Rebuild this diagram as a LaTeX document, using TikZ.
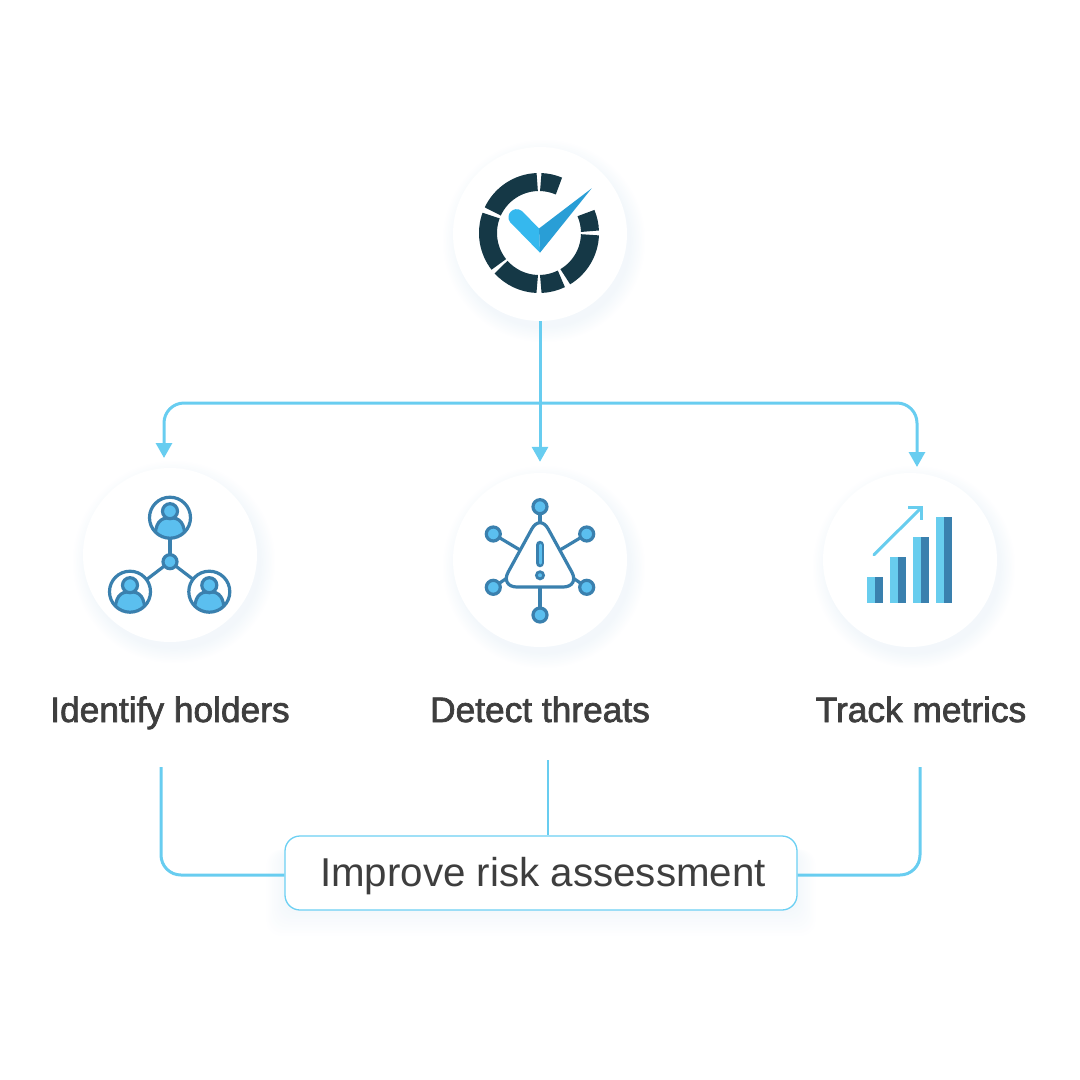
\documentclass[tikz,border=0pt]{standalone}
\usepackage{fontspec}
\setmainfont{Liberation Sans}
\newfontfamily\LabelFont[FakeBold=2]{Liberation Sans}
\usetikzlibrary{arrows.meta,backgrounds}
\definecolor{FlowClr}{RGB}{104,205,240}
\definecolor{BoxClr}{RGB}{108,208,243}
\definecolor{TextClr}{RGB}{62,62,62}
\definecolor{RingClr}{RGB}{21,56,70}
\definecolor{CheckClr}{RGB}{53,184,238}
\definecolor{CheckDrk}{RGB}{41,158,214}
\definecolor{IconDrk}{RGB}{58,128,174}
\definecolor{IconLgt}{RGB}{91,191,239}
\definecolor{BarLgt}{RGB}{104,205,238}
\definecolor{ShadowClr}{RGB}{150,190,220}
\tikzset{
  IconCircle/.style={circle,fill=white,minimum size=174pt,inner sep=0pt},
  FlowLine/.style={draw=FlowClr,line width=3pt},
  FlowArrow/.style={FlowLine,-{Triangle[length=15pt,width=16pt]}},
  StepLabel/.style={text=TextClr,anchor=base,font=\fontsize{35.3}{38}\selectfont\LabelFont},
  IconLine/.style={draw=IconDrk,line width=3.2pt},
  IconDot/.style={IconLine,fill=IconLgt},
  SoftGlow/.style={fill=ShadowClr,opacity=.012},
  person/.pic={
    \begin{scope}
    \clip (0,0) circle (20pt);
    \fill[IconLgt] (-15,22) .. controls (-15,5) and (-10,0) .. (0,0) .. controls (10,0) and (15,5) .. (15,22) -- cycle;
    \draw[IconLine] (-15,22) .. controls (-15,5) and (-10,0) .. (0,0) .. controls (10,0) and (15,5) .. (15,22);
    \end{scope}
    \draw[IconDot] (0,-6.5) circle (7.5pt);
    \draw[IconLine] (0,0) circle (20.5pt);
  }
}
\begin{document}
\begin{tikzpicture}[x=1pt,y=-1pt]
\useasboundingbox (0,0) rectangle (1080,1080);

\node[IconCircle] (Hub) at (540,234) {};
\node[IconCircle] (Holders) at (170,555) {};
\node[IconCircle] (Detect) at (540,560) {};
\node[IconCircle] (Track) at (910,560) {};

\node[StepLabel] (HoldersLabel) at (170,722) {Identify holders};
\node[StepLabel] (DetectLabel) at (540,722) {Detect threats};
\node[StepLabel] (TrackLabel) at (921,722) {Track metrics};

\node[draw=BoxClr,fill=white,line width=1.3pt,rounded corners=15pt,minimum width=512pt,minimum height=74pt,inner sep=0pt,
  text height=30pt,text depth=4pt,text=TextClr,font=\fontsize{40.3}{44}\selectfont] (RiskBox) at (541,873) {\hspace*{4pt}Improve risk assessment};

\begin{scope}[on background layer]
\foreach \r in {0,2,...,18}{
  \fill[SoftGlow] ([xshift=4pt,yshift=-7pt]Hub.center) circle ({87+\r*.8pt});
  \fill[SoftGlow] ([xshift=4pt,yshift=-7pt]Holders.center) circle ({87+\r*.8pt});
  \fill[SoftGlow] ([xshift=4pt,yshift=-7pt]Detect.center) circle ({87+\r*.8pt});
  \fill[SoftGlow] ([xshift=4pt,yshift=-7pt]Track.center) circle ({87+\r*.8pt});
  \fill[SoftGlow,rounded corners=15pt] ([shift={(-\r*1pt,-\r*1.4pt)}]RiskBox.south west) rectangle ([shift={(\r*1pt,-14pt)}]RiskBox.north east);
}
\end{scope}

\coordinate (BusMid) at (540,403);
\coordinate (HoldersIn) at (164,458);
\coordinate (TrackIn) at (917,467);
\coordinate (HoldersOut) at (161,767);
\coordinate (DetectOut) at (548,760);
\coordinate (TrackOut) at (920,767);

\draw[FlowArrow,shorten >=11pt] (Hub) -- (Detect);
\draw[FlowArrow,rounded corners=20pt] (BusMid) -| (HoldersIn);
\draw[FlowArrow,rounded corners=20pt] (BusMid) -| (TrackIn);
\draw[FlowLine,rounded corners=20pt] (HoldersOut) |- ([yshift=-2pt]RiskBox.west);
\draw[FlowLine,rounded corners=20pt] (TrackOut) |- ([yshift=-2pt]RiskBox.east);
\draw[FlowLine,line width=2pt] (DetectOut) -- (DetectOut |- RiskBox.north);

\begin{scope}[shift={(539,233)},y=1pt]
\foreach \a/\b in {92/155,160/218,222/268,272/296,301/358,2/23,67/88}
  \draw[RingClr,line width=18pt] (\a:51pt) arc[start angle=\a,end angle=\b,radius=51pt];
\end{scope}
\fill[CheckClr] (539,228.5) -- (540,252.7) -- (510,222) .. controls (505,215) and (513,205) .. (522,211) -- cycle;
\fill[CheckDrk] (539,228.5) -- (591.7,188.3) -- (540,252.7) -- cycle;

\draw[IconLine] (170,561.7) -- (170,538);
\draw[IconLine] (170,561.7) -- (146,580);
\draw[IconLine] (170,561.7) -- (194,580);
\pic at (170,517.7) {person};
\pic at (130,591.7) {person};
\pic at (209.3,591.7) {person};
\draw[IconDot] (170,561.7) circle (7pt);

\foreach \x/\y/\u/\v in {540/506.7/540/526,493.3/534/520/550,586.7/534/560/550,493.3/587.3/507/578,586.7/587.3/573/578,540/615/540/587}{
  \draw[IconLine] (\x,\y) -- (\u,\v);
  \draw[IconDot] (\x,\y) circle (7pt);
}
\draw[IconLine,fill=white,rounded corners=17pt] (540,514) -- (580,587) -- (500,587) -- cycle;
\draw[IconDrk,line width=8.5pt,line cap=round] (540,545) -- (540,563);
\draw[IconLgt,line width=3pt,line cap=round] (540,545) -- (540,563);
\draw[IconLine,fill=IconLgt,line width=2.7pt] (540,575.3) circle (3.6pt);

\foreach \l/\m/\r/\t in {866.7/875/883.3/576.7,889.7/898/906/557,913/921/929.3/537.3,936/944/952.3/517.3}{
  \fill[BarLgt] (\l,\t) rectangle (\m,602.7);
  \fill[IconDrk] (\m,\t) rectangle (\r,602.7);
}
\draw[BarLgt,line width=3pt,line cap=round] (874,554.7) -- (921.7,507.3);
\draw[BarLgt,line width=3pt] (908.3,507) -- (921.7,507) -- (921.7,520);

\end{tikzpicture}
\end{document}
